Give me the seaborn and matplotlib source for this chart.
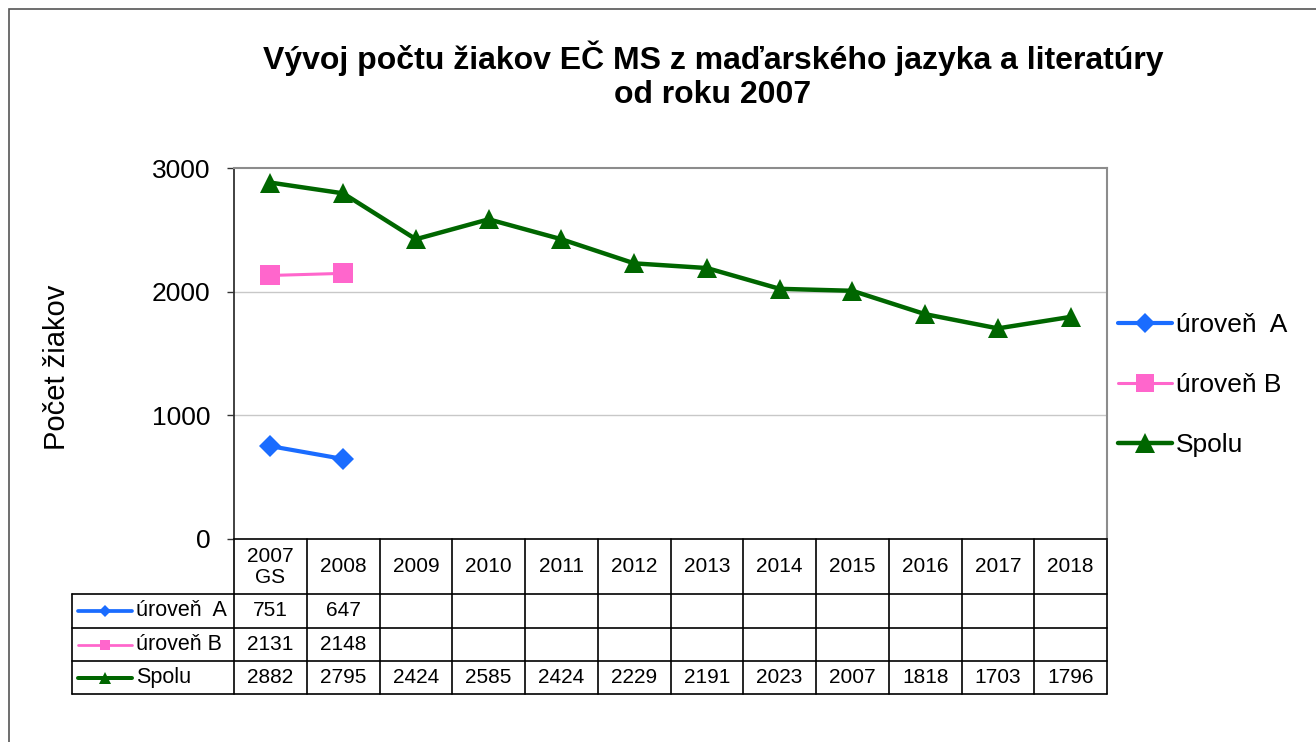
import numpy as np
import pandas as pd
import matplotlib
matplotlib.use("Agg")
import matplotlib.pyplot as plt
import matplotlib.transforms as mtransforms
from matplotlib.lines import Line2D
from matplotlib.patches import Rectangle
import seaborn as sns

categories = ["2007\nGS", "2008", "2009", "2010", "2011", "2012", "2013", "2014", "2015", "2016", "2017", "2018"]
uroven_a = [751, 647] + [np.nan] * 10
uroven_b = [2131, 2148] + [np.nan] * 10
spolu = [2882, 2795, 2424, 2585, 2424, 2229, 2191, 2023, 2007, 1818, 1703, 1796]
series_names = ["úroveň  A", "úroveň B", "Spolu"]
y_ticks = [0, 1000, 2000, 3000]

colors = {"úroveň  A": "#1a6cff", "úroveň B": "#ff66cc", "Spolu": "#006600"}
markers = {"úroveň  A": "D", "úroveň B": "s", "Spolu": "^"}
lws = {"úroveň  A": 3.0, "úroveň B": 2.2, "Spolu": 3.2}
msz = {"úroveň  A": 11, "úroveň B": 14, "Spolu": 15}

sns.set_theme(style="white")
plt.rcParams["font.family"] = ["Liberation Sans", "DejaVu Sans"]
plt.rcParams["text.color"] = "black"
plt.rcParams["axes.labelcolor"] = "black"
plt.rcParams["ytick.color"] = "black"
plt.rcParams["xtick.color"] = "black"

W, H = 1316, 742
fig = plt.figure(figsize=(W / 100, H / 100), dpi=100)
L, R, T, B = 234, 1107, 168, 539
ax = fig.add_axes([L / W, (H - B) / H, (R - L) / W, (B - T) / H])

x = np.arange(len(categories))
data = {"úroveň  A": uroven_a, "úroveň B": uroven_b, "Spolu": spolu}
for name in series_names:
    df = pd.DataFrame({"x": x, "y": data[name]}).dropna()
    sns.lineplot(data=df, x="x", y="y", ax=ax, color=colors[name], lw=lws[name],
                 marker=markers[name], markersize=msz[name], markeredgewidth=0,
                 label=name, legend=False)

def fx(px):
    return (px - L) / (R - L)

def fy(py):
    return (B - py) / (B - T)

ax.set_xlim(-0.5, len(categories) - 0.5)
ax.set_ylim(0, 3000)
ax.set_yticks(y_ticks)
ax.set_yticklabels([str(v) for v in y_ticks], fontsize=19)
ax.set_xticks([])
ax.set_xlabel("")
ax.set_ylabel("Počet žiakov", fontsize=21)
ax.yaxis.set_label_coords(fx(71), fy(367))
ax.tick_params(axis="y", length=5, width=1, color="#333333", left=True, pad=12)
for yv in [1000, 2000]:
    ax.axhline(yv, color="#c8c8c8", lw=1, zorder=0)
ax.spines["left"].set_color("#333333")
ax.spines["left"].set_linewidth(1.3)
ax.spines["bottom"].set_color("#000000")
ax.spines["bottom"].set_linewidth(1.2)
for s in ["top", "right"]:
    ax.spines[s].set_color("#8c8c8c")
    ax.spines[s].set_linewidth(1.5)

# title
fig.text(713 / W, 1 - 58 / H, "Vývoj počtu žiakov EČ MS z maďarského jazyka a literatúry",
         ha="center", va="center", fontsize=23, fontweight="bold")
fig.text(713 / W, 1 - 95 / H, "od roku 2007", ha="center", va="center",
         fontsize=23, fontweight="bold")

# legend
handles = [Line2D([0], [0], color=colors[n], lw=lws[n], marker=markers[n],
                  markersize=msz[n] * 0.95, markeredgewidth=0) for n in series_names]
fig.legend(handles, series_names, loc="center left", bbox_to_anchor=(1118 / W, 1 - 385 / H),
           frameon=False, fontsize=19, labelspacing=1.36, handlelength=2.05,
           handletextpad=0.15, borderpad=0, borderaxespad=0)

# data table
trA = ax.transAxes
trB = mtransforms.blended_transform_factory(ax.transData, ax.transAxes)
rows_y = [594, 628, 661, 694]
lc = "#000000"
for py in rows_y:
    ax.plot([fx(72), 1], [fy(py), fy(py)], color=lc, lw=1.2, transform=trA, clip_on=False)
ax.plot([fx(72), fx(72)], [fy(594), fy(694)], color=lc, lw=1.2, transform=trA, clip_on=False)
for i in range(len(categories) + 1):
    ax.plot([i - 0.5, i - 0.5], [0, fy(694)], color=lc, lw=1.2, transform=trB, clip_on=False)

for i, c in enumerate(categories):
    ax.text(i, fy(567), c, transform=trB, ha="center", va="center", fontsize=15,
            linespacing=1.1)

row_centers = [611, 644.5, 677.5]
for name, yc in zip(series_names, row_centers):
    vals = data[name]
    for i, v in enumerate(vals):
        if not np.isnan(v):
            ax.text(i, fy(yc), f"{int(v)}", transform=trB, ha="center", va="center", fontsize=15)
    ax.plot([fx(78), fx(132)], [fy(yc), fy(yc)], color=colors[name], lw=lws[name] * 0.9,
            transform=trA, clip_on=False)
    ax.plot([fx(105)], [fy(yc)], color=colors[name], marker=markers[name],
            markersize=msz[name] * 0.55, markeredgewidth=0, transform=trA, clip_on=False)
    ax.text(fx(136), fy(yc), name, transform=trA, ha="left", va="center", fontsize=15.5)

# outer border
fig.patches.append(Rectangle((9 / W, -0.05), 1.1, 1 - 9 / H + 0.05, transform=fig.transFigure,
                             fill=False, edgecolor="#555555", lw=1.2))

fig.savefig("out.png", dpi=100)
